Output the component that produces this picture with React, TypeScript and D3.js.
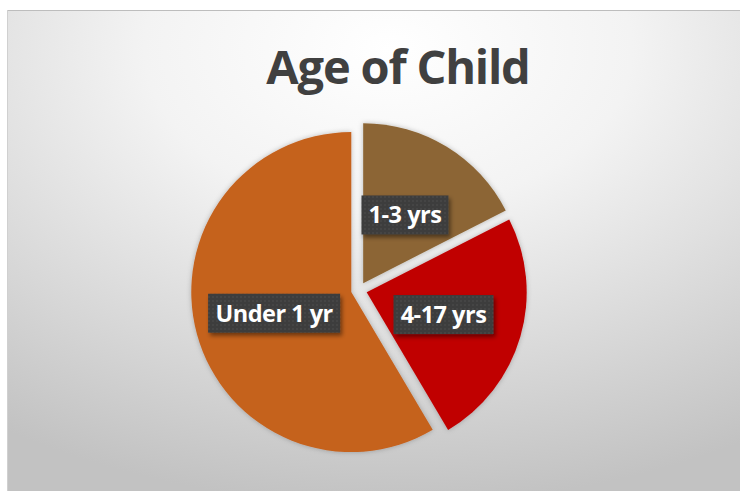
import React from "react";
import * as d3 from "d3";

const categories = ["1-3 yrs", "4-17 yrs", "Under 1 yr"];
const values = [17.5, 24, 58.5];
const colors = ["#8C6534", "#C00000", "#C5621F"];
const title = "Age of Child";

const W = 740;
const H = 491;

export default function App() {
  const cx = 359;
  const cy = 290;
  const r = 160;
  const explode = 8;

  const pie = d3.pie<number>().sort(null).value((d) => d);
  const arcs = pie(values);
  const arc = d3.arc<d3.PieArcDatum<number>>().innerRadius(0).outerRadius(r);

  const labelBoxW = [87, 100, 132];
  const labelBoxH = 39;

  return (
    <svg
      width={W}
      height={H}
      style={{ position: "absolute", left: 0, top: 0, display: "block" }}
      fontFamily="Lato, 'Open Sans', sans-serif"
    >
      <defs>
        <radialGradient id="bg" cx="0.52" cy="0.08" r="0.95" fx="0.52" fy="0.08">
          <stop offset="0" stopColor="#ffffff" />
          <stop offset="0.35" stopColor="#f3f3f3" />
          <stop offset="1" stopColor="#c2c2c2" />
        </radialGradient>
        <pattern id="dots" width="4" height="4" patternUnits="userSpaceOnUse">
          <rect width="4" height="4" fill="#3c3c3c" />
          <circle cx="1" cy="1" r="0.7" fill="#555555" />
        </pattern>
        <filter id="sliceShadow" x="-20%" y="-20%" width="140%" height="140%">
          <feDropShadow dx="0" dy="0" stdDeviation="2.5" floodColor="#000" floodOpacity="0.25" />
        </filter>
        <filter id="boxShadow" x="-20%" y="-30%" width="140%" height="160%">
          <feDropShadow dx="2" dy="3" stdDeviation="2" floodColor="#000" floodOpacity="0.45" />
        </filter>
      </defs>
      <rect x={0} y={0} width={W} height={H} fill="#ffffff" />
      <rect x={7} y={10} width={W - 7} height={H - 10} fill="url(#bg)" />
      <line x1={7} y1={10.5} x2={W} y2={10.5} stroke="#bdbdbd" strokeWidth={1} />
      <line x1={7.5} y1={10} x2={7.5} y2={H} stroke="#d0d0d0" strokeWidth={1} />

      <text
        x={398}
        y={84}
        textAnchor="middle"
        fontSize={47}
        fontWeight={700}
        fill="#404040"
        fontFamily="'Open Sans', Lato, sans-serif"
        letterSpacing={-1.2}
      >
        {title}
      </text>

      {arcs.map((a, i) => {
        const mid = (a.startAngle + a.endAngle) / 2;
        const ox = cx + explode * Math.sin(mid);
        const oy = cy - explode * Math.cos(mid);
        return (
          <g key={"s" + i} transform={`translate(${ox},${oy})`} filter="url(#sliceShadow)">
            <path d={arc(a) || ""} fill={colors[i]} />
          </g>
        );
      })}

      {arcs.map((a, i) => {
        const mid = (a.startAngle + a.endAngle) / 2;
        const ox = cx + explode * Math.sin(mid);
        const oy = cy - explode * Math.cos(mid);
        const [lx, ly] = arc.centroid(a);
        const x = ox + lx;
        const y = oy + ly;
        const bw = labelBoxW[i];
        return (
          <g key={"l" + i}>
            <rect
              x={x - bw / 2}
              y={y - labelBoxH / 2}
              width={bw}
              height={labelBoxH}
              fill="url(#dots)"
              filter="url(#boxShadow)"
            />
            <text
              x={x}
              y={y + 8.5}
              textAnchor="middle"
              fontSize={23.5}
              fontWeight={700}
              fill="#ffffff"
              fontFamily="'Open Sans', Lato, sans-serif"
              letterSpacing={-0.5}
            >
              {categories[i]}
            </text>
          </g>
        );
      })}
    </svg>
  );
}
